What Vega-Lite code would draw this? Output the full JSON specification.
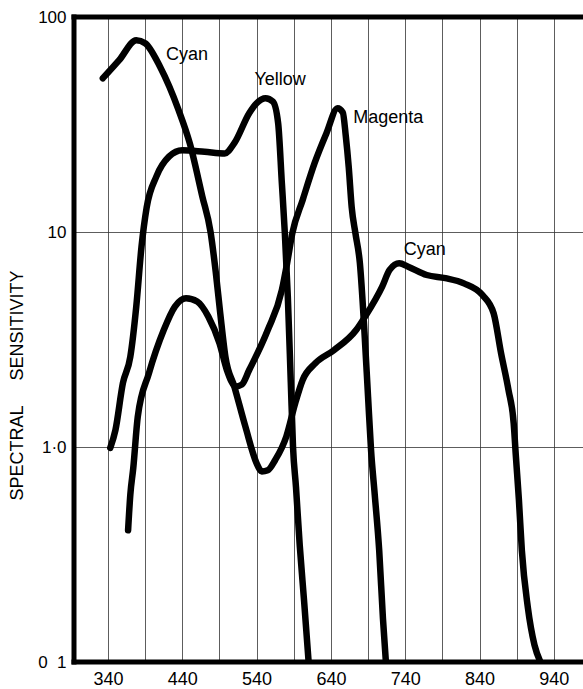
{
  "$schema": "https://vega.github.io/schema/vega-lite/v6.json",
  "width": 509,
  "height": 645,
  "autosize": "none",
  "padding": {"left": 74, "top": 17, "right": 0, "bottom": 27},
  "background": "white",
  "config": {"view": {"stroke": null}, "font": "Liberation Sans"},
  "datasets": {
    "curves": [
      {"series": "Cyan", "nm": 333, "s": 51.9},
      {"series": "Cyan", "nm": 355, "s": 63},
      {"series": "Cyan", "nm": 378, "s": 78},
      {"series": "Cyan", "nm": 390, "s": 75.5},
      {"series": "Cyan", "nm": 410, "s": 58.7},
      {"series": "Cyan", "nm": 435, "s": 36.9},
      {"series": "Cyan", "nm": 450, "s": 25.9},
      {"series": "Cyan", "nm": 467, "s": 14.6},
      {"series": "Cyan", "nm": 478, "s": 10.0},
      {"series": "Cyan", "nm": 485, "s": 6.5},
      {"series": "Cyan", "nm": 491, "s": 4.2},
      {"series": "Cyan", "nm": 498, "s": 2.63},
      {"series": "Cyan", "nm": 510, "s": 1.91},
      {"series": "Cyan", "nm": 525, "s": 1.24},
      {"series": "Cyan", "nm": 540, "s": 0.84},
      {"series": "Cyan", "nm": 547, "s": 0.77},
      {"series": "Cyan", "nm": 555, "s": 0.78},
      {"series": "Cyan", "nm": 565, "s": 0.87},
      {"series": "Cyan", "nm": 580, "s": 1.12},
      {"series": "Cyan", "nm": 592, "s": 1.6},
      {"series": "Cyan", "nm": 602, "s": 2.05},
      {"series": "Cyan", "nm": 619, "s": 2.45},
      {"series": "Cyan", "nm": 644, "s": 2.82},
      {"series": "Cyan", "nm": 674, "s": 3.5},
      {"series": "Cyan", "nm": 686, "s": 4.04},
      {"series": "Cyan", "nm": 709, "s": 5.57},
      {"series": "Cyan", "nm": 719, "s": 6.66},
      {"series": "Cyan", "nm": 732, "s": 7.15},
      {"series": "Cyan", "nm": 744, "s": 6.9},
      {"series": "Cyan", "nm": 769, "s": 6.31},
      {"series": "Cyan", "nm": 794, "s": 6.1},
      {"series": "Cyan", "nm": 819, "s": 5.77},
      {"series": "Cyan", "nm": 844, "s": 5.09},
      {"series": "Cyan", "nm": 859, "s": 4.19},
      {"series": "Cyan", "nm": 869, "s": 2.73},
      {"series": "Cyan", "nm": 879, "s": 1.84},
      {"series": "Cyan", "nm": 886, "s": 1.29},
      {"series": "Cyan", "nm": 889, "s": 0.9},
      {"series": "Cyan", "nm": 893, "s": 0.57},
      {"series": "Cyan", "nm": 897, "s": 0.33},
      {"series": "Cyan", "nm": 905, "s": 0.18},
      {"series": "Cyan", "nm": 914, "s": 0.12},
      {"series": "Cyan", "nm": 922, "s": 0.1},
      {"series": "Yellow", "nm": 343, "s": 0.99},
      {"series": "Yellow", "nm": 350, "s": 1.2},
      {"series": "Yellow", "nm": 360, "s": 1.98},
      {"series": "Yellow", "nm": 370, "s": 2.63},
      {"series": "Yellow", "nm": 378, "s": 4.5},
      {"series": "Yellow", "nm": 385, "s": 8.5},
      {"series": "Yellow", "nm": 392, "s": 13},
      {"series": "Yellow", "nm": 405, "s": 18.1},
      {"series": "Yellow", "nm": 422, "s": 22.4},
      {"series": "Yellow", "nm": 440, "s": 24.0},
      {"series": "Yellow", "nm": 470, "s": 23.6},
      {"series": "Yellow", "nm": 497, "s": 23.2},
      {"series": "Yellow", "nm": 510, "s": 25.9},
      {"series": "Yellow", "nm": 530, "s": 35.7},
      {"series": "Yellow", "nm": 540, "s": 39.7},
      {"series": "Yellow", "nm": 552, "s": 41.9},
      {"series": "Yellow", "nm": 562, "s": 40.4},
      {"series": "Yellow", "nm": 569, "s": 32.0},
      {"series": "Yellow", "nm": 574, "s": 16.8},
      {"series": "Yellow", "nm": 578, "s": 9.86},
      {"series": "Yellow", "nm": 582, "s": 5.0},
      {"series": "Yellow", "nm": 586, "s": 2.0},
      {"series": "Yellow", "nm": 589, "s": 1.0},
      {"series": "Yellow", "nm": 593, "s": 0.65},
      {"series": "Yellow", "nm": 598, "s": 0.35},
      {"series": "Yellow", "nm": 604, "s": 0.19},
      {"series": "Yellow", "nm": 610, "s": 0.1},
      {"series": "Magenta", "nm": 367, "s": 0.41},
      {"series": "Magenta", "nm": 370, "s": 0.6},
      {"series": "Magenta", "nm": 374, "s": 0.8},
      {"series": "Magenta", "nm": 380, "s": 1.38},
      {"series": "Magenta", "nm": 395, "s": 2.2},
      {"series": "Magenta", "nm": 415, "s": 3.5},
      {"series": "Magenta", "nm": 430, "s": 4.5},
      {"series": "Magenta", "nm": 445, "s": 4.92},
      {"series": "Magenta", "nm": 460, "s": 4.75},
      {"series": "Magenta", "nm": 475, "s": 4.04},
      {"series": "Magenta", "nm": 490, "s": 3.04},
      {"series": "Magenta", "nm": 500, "s": 2.28},
      {"series": "Magenta", "nm": 512, "s": 1.91},
      {"series": "Magenta", "nm": 520, "s": 1.95},
      {"series": "Magenta", "nm": 530, "s": 2.28},
      {"series": "Magenta", "nm": 555, "s": 3.5},
      {"series": "Magenta", "nm": 574, "s": 5.37},
      {"series": "Magenta", "nm": 581, "s": 7.15},
      {"series": "Magenta", "nm": 588, "s": 9.86},
      {"series": "Magenta", "nm": 602, "s": 14.1},
      {"series": "Magenta", "nm": 618, "s": 20.9},
      {"series": "Magenta", "nm": 634, "s": 28.8},
      {"series": "Magenta", "nm": 649, "s": 37.6},
      {"series": "Magenta", "nm": 656, "s": 36},
      {"series": "Magenta", "nm": 660, "s": 28},
      {"series": "Magenta", "nm": 664, "s": 20},
      {"series": "Magenta", "nm": 668, "s": 13},
      {"series": "Magenta", "nm": 673, "s": 9.86},
      {"series": "Magenta", "nm": 679, "s": 7.15},
      {"series": "Magenta", "nm": 685, "s": 3.5},
      {"series": "Magenta", "nm": 690, "s": 1.71},
      {"series": "Magenta", "nm": 694, "s": 0.97},
      {"series": "Magenta", "nm": 699, "s": 0.6},
      {"series": "Magenta", "nm": 705, "s": 0.33},
      {"series": "Magenta", "nm": 710, "s": 0.16},
      {"series": "Magenta", "nm": 714, "s": 0.1}
    ],
    "labels": [
      {"label": "Cyan", "nm": 418, "s": 66.6},
      {"label": "Yellow", "nm": 537, "s": 50.9},
      {"label": "Magenta", "nm": 670, "s": 33.9},
      {"label": "Cyan", "nm": 738, "s": 8.24}
    ],
    "frame": [
      {"edge": "top", "s": 100},
      {"edge": "bottom", "s": 0.1}
    ]
  },
  "layer": [
    {
      "data": {"name": "curves"},
      "mark": {"type": "line", "interpolate": "monotone", "strokeWidth": 6.5, "color": "black", "strokeCap": "round", "strokeJoin": "round", "clip": true},
      "encoding": {
        "x": {
          "field": "nm", "type": "quantitative",
          "scale": {"domain": [294.2, 979.3], "nice": false, "zero": false},
          "axis": {
            "values": [340, 390, 440, 490, 540, 590, 640, 690, 740, 790, 840, 890, 940],
            "labelExpr": "(datum.value - 340) % 100 == 0 ? format(datum.value, 'd') : ''",
            "grid": true, "gridColor": "#333", "gridWidth": 0.8,
            "ticks": false, "tickSize": 0, "domain": false,
            "labelFontSize": 18, "labelPadding": 8, "labelColor": "black",
            "labelFlush": false, "labelOverlap": false,
            "title": null
          }
        },
        "y": {
          "field": "s", "type": "quantitative",
          "scale": {"type": "log", "domain": [0.1, 100], "nice": false},
          "axis": {
            "values": [0.1, 1, 10, 100],
            "labelExpr": "datum.value >= 99 ? '100' : datum.value >= 9 ? '10' : datum.value >= 0.9 ? '1·0' : '0\u00a0\u00a01'",
            "grid": true, "gridColor": "#333", "gridWidth": 0.8,
            "ticks": false, "tickSize": 0, "domain": false,
            "labelFontSize": 17, "labelPadding": 8, "labelColor": "black",
            "labelOverlap": false,
            "title": "SPECTRAL\u00a0\u00a0\u00a0\u00a0\u00a0SENSITIVITY",
            "titleFontSize": 18, "titleFontWeight": "normal", "titleColor": "black",
            "titleX": -57, "titleY": 368, "titleAngle": 270,
            "titleAlign": "center", "titleBaseline": "middle"
          }
        },
        "detail": {"field": "series"}
      }
    },
    {
      "data": {"name": "labels"},
      "mark": {"type": "text", "align": "left", "baseline": "middle", "fontSize": 18, "font": "Liberation Sans", "color": "black"},
      "encoding": {
        "x": {"field": "nm", "type": "quantitative"},
        "y": {"field": "s", "type": "quantitative"},
        "text": {"field": "label"}
      }
    },
    {
      "data": {"name": "frame"},
      "mark": {"type": "rule", "strokeWidth": 5, "color": "black", "strokeCap": "square"},
      "encoding": {"y": {"field": "s", "type": "quantitative"}}
    },
    {
      "data": {"values": [{"nm": 294.2}]},
      "mark": {"type": "rule", "strokeWidth": 5, "color": "black", "strokeCap": "square"},
      "encoding": {"x": {"field": "nm", "type": "quantitative"}}
    }
  ]
}
